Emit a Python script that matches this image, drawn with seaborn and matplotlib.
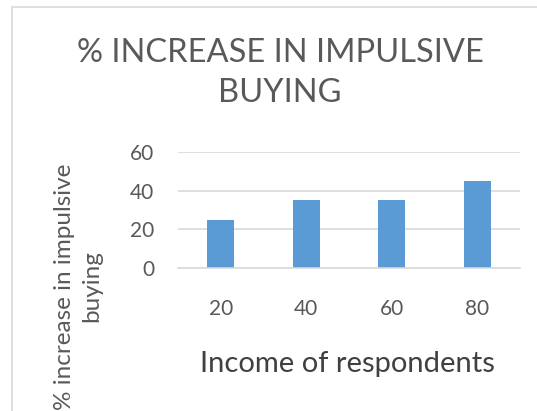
import matplotlib
matplotlib.use("Agg")
import matplotlib.pyplot as plt
import seaborn as sns
import pandas as pd
from matplotlib.patches import Rectangle

income = ["20", "40", "60", "80"]
increase = [25, 35, 35, 45]
yticks = [0, 20, 40, 60]

title = "% INCREASE IN IMPULSIVE\nBUYING"
xlabel = "Income of respondents"
ylabel = "% increase in impulsive\nbuying"

sns.set_theme(style="white")
plt.rcParams["font.family"] = ["Lato", "DejaVu Sans"]

TEXT = "#595959"
GRID = "#D9D9D9"
BAR = "#5B9BD5"

fig = plt.figure(figsize=(5.37, 4.11), dpi=100)
fig.patch.set_facecolor("white")
ax = fig.add_axes([178/537, 1-268/411, 342/537, 116/411])

df = pd.DataFrame({"income": income, "increase": increase})
sns.barplot(data=df, x="income", y="increase", color=BAR, width=0.316,
            saturation=1, ax=ax, linewidth=0)

ax.set_ylim(0, 60)
ax.set_yticks(yticks)
ax.set_yticklabels([str(t) for t in yticks])
ax.yaxis.grid(True, color=GRID, linewidth=1.2)
ax.set_axisbelow(True)
for s in ["top", "right", "left"]:
    ax.spines[s].set_visible(False)
ax.spines["bottom"].set_color(GRID)
ax.spines["bottom"].set_linewidth(1.2)
ax.tick_params(axis="both", length=0, colors=TEXT, labelsize=15)
ax.tick_params(axis="x", pad=22)
ax.tick_params(axis="y", pad=17)

ax.set_xlabel(xlabel, fontsize=21, color="#404040", va="center")
ax.xaxis.set_label_coords(0.496, -0.83)
ax.set_ylabel(ylabel, fontsize=17.5, color=TEXT, va="center", linespacing=1.4)
ax.yaxis.set_label_coords(-0.292, -0.16)

fig.text(280/537, 1-73/411, title, ha="center", va="center",
         fontsize=23.5, color=TEXT, linespacing=1.4)

fig.patches.append(Rectangle((12/537, -0.5), 2, 1.5 - 7/411,
                             transform=fig.transFigure, fill=False,
                             edgecolor=GRID, linewidth=1.2))

fig.savefig("out.png", dpi=100)
